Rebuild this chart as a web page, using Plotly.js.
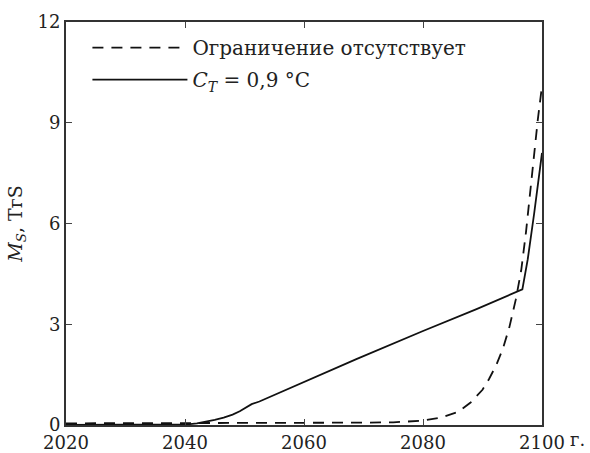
<!DOCTYPE html>
<html>
<head>
<meta charset="utf-8">
<script src="https://cdn.plot.ly/plotly-3.0.1.min.js"></script>
<style>html,body{margin:0;padding:0;background:#fff;}#chart{width:590px;height:453px;}</style>
</head>
<body>
<div id="chart"></div>
<script>
// Data
const yearsNoLimit = [2020, 2030, 2040, 2050, 2060, 2070, 2075, 2080, 2083, 2086, 2088, 2090, 2091.1, 2092.3, 2093.4, 2094.5, 2095.6, 2096.5, 2097.3, 2098, 2098.7, 2099.3, 2100];
const msNoLimit    = [0.05, 0.05, 0.05, 0.06, 0.06, 0.07, 0.08, 0.13, 0.22, 0.4, 0.67, 1.05, 1.37, 1.78, 2.26, 2.9, 3.74, 4.6, 5.73, 6.9, 8.2, 9.1, 10.1];

const yearsCT = [2020, 2030, 2039, 2040.5, 2042, 2043.5, 2045, 2046.5, 2048, 2049.2, 2050.3, 2051.2, 2052.5, 2059.8, 2068.8, 2080, 2089, 2096.7, 2097.6, 2098.7, 2099.4, 2100];
const msCT    = [0, 0, 0, 0.02, 0.05, 0.09, 0.15, 0.22, 0.31, 0.41, 0.53, 0.62, 0.7, 1.27, 1.96, 2.8, 3.45, 4.04, 4.93, 6.32, 7.3, 8.1];

const xTickVals = [2020, 2040, 2060, 2080, 2100];
const xTickText = ["2020", "2040", "2060", "2080", "2100"];
const yTickVals = [0, 3, 6, 9, 12];
const legendNames = ["Ограничение отсутствует", "<i>C</i><sub><i>T</i></sub> = 0,9 °C"];

const FONT = "DejaVu Serif";

const traces = [
  {x: yearsNoLimit, y: msNoLimit, mode: "lines", name: legendNames[0], legendgroup: "a",
   line: {color: "#111", width: 1.8, dash: "11px,8px"}},
  {x: yearsCT, y: msCT, mode: "lines", name: legendNames[1], legendgroup: "b",
   line: {color: "#111", width: 1.8}}
];

const layout = {
  width: 590, height: 453,
  margin: {l: 66, r: 48, t: 22, b: 28},
  paper_bgcolor: "#fff", plot_bgcolor: "#fff",
  font: {family: FONT, size: 18, color: "#222"},
  showlegend: true,
  legend: {x: 0.045, y: 0.985, xanchor: "left", yanchor: "top", bgcolor: "rgba(0,0,0,0)",
           itemwidth: 95, tracegroupgap: 3, font: {family: FONT, size: 20, color: "#222"}},
  xaxis: {range: [2020, 2100], tickvals: xTickVals, ticktext: xTickText,
          ticks: "inside", ticklen: 6, tickwidth: 1, tickcolor: "#444",
          showline: true, linecolor: "#333", linewidth: 2, mirror: "ticks",
          showgrid: false, zeroline: false, automargin: false,
          tickfont: {family: FONT, size: 18, color: "#222"}},
  yaxis: {range: [0, 12], tickvals: yTickVals,
          ticks: "inside", ticklen: 6, tickwidth: 1, tickcolor: "#444",
          showline: true, linecolor: "#333", linewidth: 2, mirror: "ticks",
          showgrid: false, zeroline: false, automargin: false,
          tickfont: {family: FONT, size: 18, color: "#222"},
          title: {text: "<i>M</i><sub><i>S</i></sub>, ТгS", standoff: 10,
                  font: {family: FONT, size: 19, color: "#222"}}},
  annotations: [
    {xref: "paper", yref: "paper", x: 1, y: 0, xanchor: "left", yanchor: "top",
     xshift: 26, yshift: -2, text: "г.", showarrow: false,
     font: {family: FONT, size: 18, color: "#222"}}
  ]
};

Plotly.newPlot("chart", traces, layout, {displayModeBar: false, staticPlot: true});
</script>
</body>
</html>
